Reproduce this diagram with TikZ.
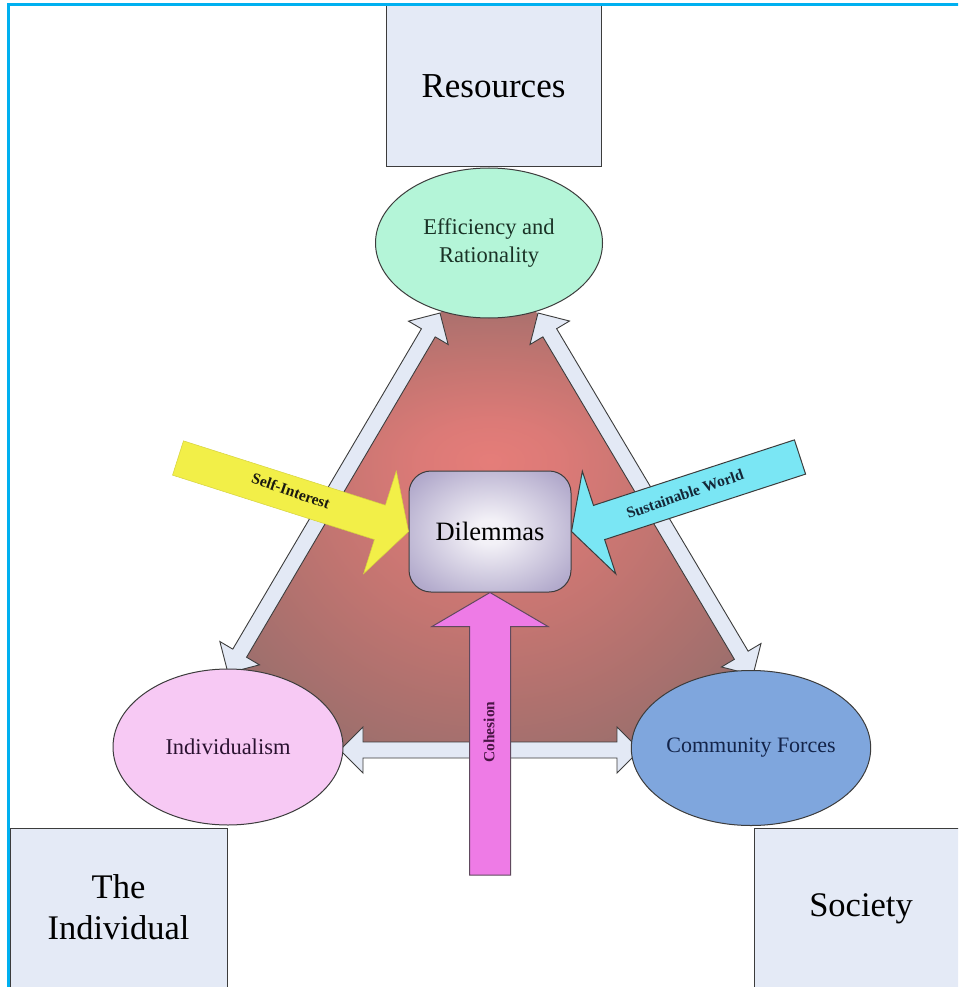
\documentclass[tikz,border=0pt]{standalone}
\usepackage{fontspec}
\setmainfont{Liberation Serif}
\usetikzlibrary{calc,shapes.geometric}
\definecolor{frameblue}{HTML}{00B0F0}
\definecolor{boxfill}{HTML}{E4EAF6}
\definecolor{effill}{HTML}{B4F5D8}
\definecolor{indfill}{HTML}{F7C9F4}
\definecolor{comfill}{HTML}{7FA6DD}
\definecolor{arrfill}{HTML}{E3E9F5}
\definecolor{edgegray}{HTML}{3C3C3C}
\definecolor{yelarr}{HTML}{F2EF48}
\definecolor{cyanarr}{HTML}{7AE6F4}
\definecolor{magarr}{HTML}{EE7BE6}
\definecolor{efftext}{HTML}{1A3226}
\definecolor{indtext}{HTML}{2A1230}
\definecolor{comtext}{HTML}{13244A}
\definecolor{sitext}{HTML}{1A1A10}
\definecolor{swtext}{HTML}{142838}
\definecolor{cotext}{HTML}{4A1545}
\definecolor{trizero}{HTML}{E57D79}
\definecolor{trione}{HTML}{DC7A77}
\definecolor{tritwo}{HTML}{C47571}
\definecolor{trithree}{HTML}{AE716E}
\definecolor{trifour}{HTML}{9C6F6D}
\definecolor{trifive}{HTML}{7E6E6E}
\definecolor{trisix}{HTML}{7A6D6D}
\definecolor{dilin}{HTML}{F3F1F7}
\definecolor{dilmid}{HTML}{B4ACCD}
\definecolor{dilout}{HTML}{A99FC5}
\pgfdeclareradialshading{trishade}{\pgfpointorigin}{color(0bp)=(trizero); color(5.7bp)=(trione); color(14.1bp)=(tritwo); color(21.2bp)=(trithree); color(26.9bp)=(trifour); color(32.5bp)=(trifive); color(35.4bp)=(trisix); color(50bp)=(trisix)}
\pgfdeclareradialshading{dilshade}{\pgfpointorigin}{color(0bp)=(dilin); color(5bp)=(dilin); color(30bp)=(dilmid); color(36bp)=(dilout); color(50bp)=(dilout)}
% double-headed block arrow between two named points
\newcommand\DArrow[2]{%
  \draw[dblarr] (#1)
  -- ($(#1)!23pt!(#2)!23pt!90:(#2)$)
  -- ($(#1)!23pt!(#2)!8pt!90:(#2)$)
  -- ($(#2)!23pt!(#1)!8pt!-90:(#1)$)
  -- ($(#2)!23pt!(#1)!23pt!-90:(#1)$)
  -- (#2)
  -- ($(#2)!23pt!(#1)!23pt!90:(#1)$)
  -- ($(#2)!23pt!(#1)!8pt!90:(#1)$)
  -- ($(#1)!23pt!(#2)!8pt!-90:(#2)$)
  -- ($(#1)!23pt!(#2)!23pt!-90:(#2)$)
  -- cycle;}
% single block arrow: style, tip, tail, head length, head half width, shaft half width
\newcommand\BlockArrow[6]{%
  \draw[#1] (#2)
  -- ($(#2)!#4!(#3)!#5!90:(#3)$)
  -- ($(#2)!#4!(#3)!#6!90:(#3)$)
  -- ($(#3)!#6!-90:(#2)$)
  -- ($(#3)!#6!90:(#2)$)
  -- ($(#2)!#4!(#3)!#6!-90:(#3)$)
  -- ($(#2)!#4!(#3)!#5!-90:(#3)$)
  -- cycle;}
\begin{document}
\begin{tikzpicture}[x=1pt,y=-1pt,
  box/.style={draw=edgegray, fill=boxfill, line width=1pt, inner sep=0pt},
  boxtext/.style={align=center, inner sep=0pt, font=\fontsize{34.5}{41}\selectfont},
  ell/.style={ellipse, draw=edgegray, line width=1pt, inner sep=0pt, align=center},
  dblarr/.style={draw=edgegray, fill=arrfill, line width=0.9pt, line join=miter},
  lbl/.style={inner sep=0pt, font=\bfseries\fontsize{15.5}{18}\selectfont}]
\useasboundingbox (0,0) rectangle (958,987);
\clip (0,0) rectangle (958,987);
\fill[white] (0,0) rectangle (958,987);

% shaded triangle behind the relations (upper and lower halves of one radial glow)
\begin{scope}
  \clip (445,305) -- (532,305) -- (798,750) -- (183,750) -- cycle;
  \begin{scope}
    \clip (0,0) rectangle (958,460);
    \shade[shading=trishade] (190,290) rectangle (790,630);
  \end{scope}
  \begin{scope}
    \clip (0,460) rectangle (958,987);
    \shade[shading=trishade] (190,165) rectangle (790,755);
  \end{scope}
\end{scope}

% end points of the double arrows
\coordinate (ltop) at (440,313);
\coordinate (lbot) at (228,673);
\coordinate (rtop) at (538,313);
\coordinate (rbot) at (753,675);
\coordinate (hleft) at (340,750);
\coordinate (hright) at (640,750);
\DArrow{ltop}{lbot}
\DArrow{rtop}{rbot}
\DArrow{hleft}{hright}

% ellipses
\node[ell, fill=effill, text=efftext, minimum width=227pt, minimum height=150pt,
      font=\fontsize{22.5}{28}\selectfont] (eff) at (489,243) {Efficiency and\\Rationality};
\node[ell, fill=indfill, text=indtext, minimum width=230pt, minimum height=156pt,
      font=\fontsize{22.5}{28}\selectfont] (ind) at (228,747) {Individualism};
\node[ell, fill=comfill, text=comtext, minimum width=233pt, minimum height=155pt,
      font=\fontsize{22}{28}\selectfont] (com) at (751,748) {Community Forces};

% boxes
\node[box, minimum width=215pt, minimum height=161pt, font=\fontsize{35}{41}\selectfont] (res) at (493.5,86.5) {Resources};
\node[box, minimum width=217pt, minimum height=170pt] (indiv) at (118.5,913) {};
\node[boxtext] (indivtext) at (118.5,907.5) {The\\Individual};
\node[box, minimum width=216pt, minimum height=170pt] (soc) at (862,913) {};
\node[boxtext] (soctext) at (861,909) {Society};

% centre
\node[draw=edgegray, line width=1pt, rounded corners=22pt, shade, shading=dilshade,
      minimum width=162pt, minimum height=121pt, inner sep=0pt,
      font=\fontsize{26.5}{30}\selectfont] (dil) at (490,531.5) {Dilemmas};

% block arrows
\coordinate (siTail) at (178,458);
\coordinate (swTail) at (800,457);
\coordinate (coTail) at (490,875);
\BlockArrow{fill=yelarr, draw=yelarr!88!black, line width=0.5pt, line join=miter}{dil.west}{siTail}{30pt}{54pt}{18pt}
\BlockArrow{fill=cyanarr, draw=edgegray, line width=1pt, line join=miter}{dil.east}{swTail}{29pt}{54pt}{18pt}
\BlockArrow{fill=magarr, draw=edgegray!80!magarr, line width=1pt, line join=miter}{dil.south}{coTail}{34pt}{58pt}{20.5pt}

\node[lbl, text=sitext, rotate=-19] (silbl) at (291,491) {Self-Interest};
\node[lbl, text=swtext, rotate=19] (swlbl) at (685,494) {Sustainable World};
\node[lbl, text=cotext, rotate=90] (colbl) at (489,732) {Cohesion};

% frame
\draw[frameblue, line width=2.8pt] (8.3,995) -- (8.3,4.5) -- (965,4.5);
\end{tikzpicture}
\end{document}
